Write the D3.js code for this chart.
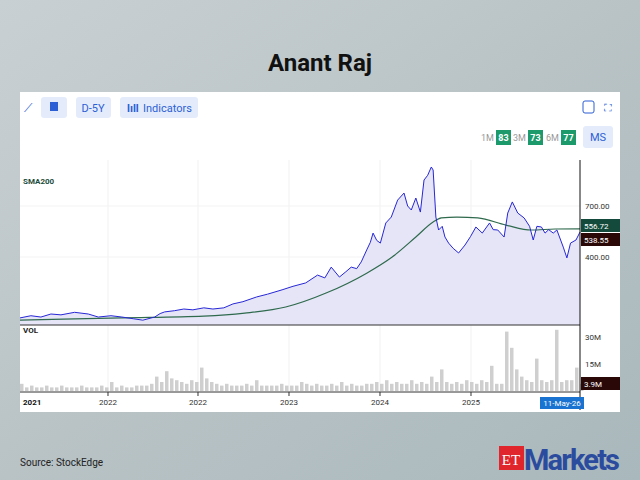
<!DOCTYPE html>
<html><head><meta charset="utf-8">
<script src="https://cdn.jsdelivr.net/npm/d3@7"></script>
<style>body{margin:0;}svg{display:block;font-family:Roboto,"Open Sans",sans-serif;}</style>
</head><body>
<svg id="chart" width="640" height="480"></svg>
<script>
// years since start of range
var priceT = [0,.12,.23,.34,.45,.6,.75,.86,1.0,1.12,1.25,1.35,1.48,1.54,1.59,1.7,1.80,1.9,2.02,2.12,2.24,2.34,2.45,2.60,2.72,2.88,3.0,3.14,3.27,3.35,3.42,3.51,3.58,3.64,3.7,3.75,3.81,3.85,3.88,3.92,3.96,4.02,4.08,4.15,4.22,4.26,4.3,4.35,4.40,4.44,4.48,4.52,4.54,4.57,4.60,4.64,4.67,4.71,4.76,4.82,4.89,4.95,5.01,5.08,5.16,5.2,5.25,5.32,5.36,5.41,5.47,5.54,5.6,5.64,5.68,5.73,5.77,5.81,5.86,5.90,5.97,6.01,6.05,6.11,6.154];
var priceV = [205,210,207,214,212,218,214,207,210,207,203,200,207,215,219,222,226,224,229,226,229,239,245,258,266,279,290,301,328,318,358,321,340,358,352,379,432,470,520,480,466,581,620,747,807,700,670,764,655,931,980,1074,1039,620,538,560,498,466,440,418,456,500,556,520,581,540,538,498,648,732,648,614,560,482,560,556,520,540,520,538,446,396,466,482,526];
var smaT = [0,1.12,2.02,2.47,2.92,3.37,3.81,4.09,4.35,4.54,4.63,4.80,5.03,5.34,5.62,5.88,6.154];
var smaV = [200,205,209,216,231,270,335,400,498,587,614,620,614,568,538,544,545];
var volV = [4,2,3,2,2,3,2,2,3,2, 2,2,3,2,2,2,3,2,5,2, 3,2,2,3,3,3,4,8,5,11, 7,6,5,4,6,5,13,7,5,4,
            3,4,3,3,3,4,3,6,3,3, 3,3,4,3,3,3,5,4,3,4, 3,3,4,3,5,3,4,3,3,4, 4,5,4,6,4,5,4,4,6,4,
            5,4,8,5,12,5,4,5,4,6, 5,4,6,5,14,4,4,33,24,12, 8,6,5,18,6,5,6,34,5,6, 6,13,4];
var volStep = 5 / 91;
var xTicks = [.967, 1.956, 2.956, 3.956, 4.956];
var xTickLabels = ['2022', '2022', '2023', '2024', '2025'];
var priceTicks = [400, 700];
var volTicks = [15, 30];

var svg = d3.select('#chart');
var defs = svg.append('defs');
var bg = defs.append('linearGradient').attr('id', 'bg').attr('x1', 0).attr('x2', 1).attr('y1', 0).attr('y2', 1);
bg.append('stop').attr('offset', 0).attr('stop-color', '#c9d0d3');
bg.append('stop').attr('offset', 0.5).attr('stop-color', '#b9c3c6');
bg.append('stop').attr('offset', 1).attr('stop-color', '#a9b8bc');
svg.append('rect').attr('width', 640).attr('height', 480).attr('fill', 'url(#bg)');

svg.append('text').attr('x', 320).attr('y', 71).attr('text-anchor', 'middle')
  .attr('font-size', 24).attr('font-weight', 'bold').attr('fill', '#111').text('Anant Raj');

// card
svg.append('rect').attr('x', 20).attr('y', 92).attr('width', 600).attr('height', 320).attr('fill', '#fff');

// toolbar
var btnFill = '#e4ecfb', blue = '#2c5fd6';
svg.append('text').attr('x', 24).attr('y', 112).attr('font-size', 12).attr('fill', blue).text('⟋');
svg.append('rect').attr('x', 41).attr('y', 97).attr('width', 26).attr('height', 21).attr('rx', 3).attr('fill', btnFill);
svg.append('rect').attr('x', 50).attr('y', 102).attr('width', 8).attr('height', 9).attr('fill', blue);
svg.append('rect').attr('x', 76).attr('y', 97).attr('width', 35).attr('height', 21).attr('rx', 3).attr('fill', btnFill);
svg.append('text').attr('x', 93).attr('y', 112).attr('text-anchor', 'middle').attr('font-size', 11).attr('fill', blue).text('D-5Y');
svg.append('rect').attr('x', 120).attr('y', 97).attr('width', 78).attr('height', 21).attr('rx', 3).attr('fill', btnFill);
svg.append('text').attr('x', 127).attr('y', 112).attr('font-size', 11).attr('fill', blue).attr('font-weight', 'bold').text('lıll');
svg.append('text').attr('x', 143).attr('y', 112).attr('font-size', 11).attr('fill', blue).text('Indicators');
svg.append('rect').attr('x', 583).attr('y', 101).attr('width', 11).attr('height', 12).attr('rx', 2).attr('fill', 'none').attr('stroke', blue);
svg.append('text').attr('x', 604).attr('y', 112).attr('font-size', 11).attr('fill', blue).text('⛶');

var scoreRow = [['1M', '83', 481], ['3M', '73', 513], ['6M', '77', 546]];
scoreRow.forEach(function (s) {
  svg.append('text').attr('x', s[2]).attr('y', 141).attr('font-size', 9).attr('fill', '#999').text(s[0]);
  svg.append('rect').attr('x', s[2] + 15).attr('y', 130).attr('width', 15).attr('height', 15).attr('fill', '#1c9a6c');
  svg.append('text').attr('x', s[2] + 22.5).attr('y', 141).attr('text-anchor', 'middle').attr('font-size', 9)
    .attr('font-weight', 'bold').attr('fill', '#fff').text(s[1]);
});
svg.append('rect').attr('x', 583).attr('y', 126).attr('width', 30).attr('height', 22).attr('rx', 3).attr('fill', btnFill);
svg.append('text').attr('x', 598).attr('y', 141).attr('text-anchor', 'middle').attr('font-size', 11).attr('fill', blue).text('MS');

// scales
var x = d3.scaleLinear().domain([0, 6.154]).range([20, 580]);
var y = d3.scaleLog().domain([400, 700]).range([257, 206]);
var yv = d3.scaleLinear().domain([0, 30]).range([391, 337]);

// grid
svg.selectAll('.vg').data(xTicks).enter().append('line')
  .attr('x1', d => x(d)).attr('x2', d => x(d)).attr('y1', 160).attr('y2', 392)
  .attr('stroke', '#f1f1f1');
svg.selectAll('.hg').data(priceTicks).enter().append('line')
  .attr('x1', 20).attr('x2', 580).attr('y1', d => y(d)).attr('y2', d => y(d)).attr('stroke', '#f3f3f3');

var pts = priceT.map((t, i) => [t, priceV[i]]);
svg.append('path').datum(pts)
  .attr('d', d3.area().x(d => x(d[0])).y0(325).y1(d => y(d[1])))
  .attr('fill', '#e5e5f7');
svg.append('path').datum(smaT.map((t, i) => [t, smaV[i]]))
  .attr('d', d3.line().curve(d3.curveMonotoneX).x(d => x(d[0])).y(d => y(d[1])))
  .attr('fill', 'none').attr('stroke', '#2f6a4d').attr('stroke-width', 1.2);
svg.append('path').datum(pts)
  .attr('d', d3.line().x(d => x(d[0])).y(d => y(d[1])))
  .attr('fill', 'none').attr('stroke', '#2727d6').attr('stroke-width', 1);

svg.append('text').attr('x', 23).attr('y', 184).attr('font-size', 8).attr('font-weight', 'bold').attr('fill', '#1d4d3a').text('SMA200');

// price axis labels
svg.selectAll('.pt').data(priceTicks).enter().append('text')
  .attr('x', 585).attr('y', d => y(d) + 3).attr('font-size', 8).attr('fill', '#333').text(d => d.toFixed(2));
svg.append('rect').attr('x', 581).attr('y', 219).attr('width', 39).attr('height', 13).attr('fill', '#134a3b');
svg.append('text').attr('x', 584).attr('y', 229).attr('font-size', 8).attr('fill', '#fff').text('556.72');
svg.append('rect').attr('x', 581).attr('y', 233).attr('width', 39).attr('height', 13).attr('fill', '#2a0808');
svg.append('text').attr('x', 584).attr('y', 243).attr('font-size', 8).attr('fill', '#fff').text('538.55');

// panel separator
svg.append('line').attr('x1', 20).attr('x2', 580).attr('y1', 325).attr('y2', 325).attr('stroke', '#333');
svg.append('text').attr('x', 23).attr('y', 333).attr('font-size', 8).attr('font-weight', 'bold').attr('fill', '#222').text('VOL');

// volume
svg.selectAll('.vb').data(volV).enter().append('rect')
  .attr('x', (d, i) => x(i * volStep)).attr('width', 3.5)
  .attr('y', d => yv(d)).attr('height', d => yv(0) - yv(d)).attr('fill', '#cfcfcf');
svg.selectAll('.vt').data(volTicks).enter().append('text')
  .attr('x', 585).attr('y', d => yv(d) + 3).attr('font-size', 8).attr('fill', '#333').text(d => d + 'M');
svg.append('rect').attr('x', 581).attr('y', 377).attr('width', 39).attr('height', 13).attr('fill', '#2a0808');
svg.append('text').attr('x', 584).attr('y', 387).attr('font-size', 8).attr('fill', '#fff').text('3.9M');

// x axis
svg.append('line').attr('x1', 20).attr('x2', 580).attr('y1', 392).attr('y2', 392).attr('stroke', '#333');
svg.append('line').attr('x1', 580).attr('x2', 580).attr('y1', 160).attr('y2', 410).attr('stroke', '#111');
svg.selectAll('.xt').data(xTicks).enter().append('line')
  .attr('x1', d => x(d)).attr('x2', d => x(d)).attr('y1', 392).attr('y2', 396).attr('stroke', '#333');
svg.selectAll('.xl').data(xTicks).enter().append('text')
  .attr('x', d => x(d)).attr('y', 405).attr('text-anchor', 'middle').attr('font-size', 8).attr('fill', '#333')
  .text((d, i) => xTickLabels[i]);
svg.append('text').attr('x', 23).attr('y', 405).attr('font-size', 8).attr('font-weight', 'bold').attr('fill', '#111').text('2021');
svg.append('rect').attr('x', 540).attr('y', 397).attr('width', 44).attr('height', 12).attr('fill', '#1a73d0');
svg.append('text').attr('x', 562).attr('y', 406).attr('text-anchor', 'middle').attr('font-size', 8).attr('fill', '#fff').text('11-May-26');

// footer
svg.append('text').attr('x', 20).attr('y', 466).attr('font-size', 10).attr('fill', '#222').text('Source:  StockEdge');
svg.append('rect').attr('x', 499).attr('y', 446).attr('width', 25).attr('height', 24).attr('fill', '#e0262c');
svg.append('text').attr('x', 511).attr('y', 465).attr('text-anchor', 'middle').attr('font-size', 15)
  .attr('font-family', 'Liberation Serif').attr('fill', '#fff').text('ET');
svg.append('text').attr('x', 524).attr('y', 470).attr('font-size', 29).attr('font-weight', 'bold')
  .attr('fill', '#2b4c9e').attr('textLength', 96).text('Markets');
</script>
</body></html>
